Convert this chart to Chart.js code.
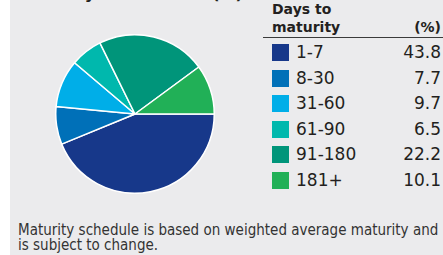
<!DOCTYPE html>
<html>
<head>
<meta charset="utf-8">
<script src="https://cdn.jsdelivr.net/npm/chart.js@4"></script>
<style>
  html, body { margin: 0; padding: 0; }
  body { width: 443px; height: 255px; background: #fff; overflow: hidden; position: relative; font-family: "DejaVu Sans", Verdana, sans-serif; color: #231f20; }
  #panel { position: absolute; left: 10px; top: 0; width: 433px; height: 255px; background: #ebebed; }
  #title { position: absolute; left: 18px; top: -16px; font-weight: bold; font-size: 16px; line-height: 19px; white-space: nowrap; }
  #pieBox { position: absolute; left: 55px; top: 34px; width: 160px; height: 160px; }
  #legend { position: absolute; left: 263px; top: 0; width: 180px; }
  .hdr { position: absolute; font-weight: bold; font-size: 14px; white-space: nowrap; }
  .rule { position: absolute; left: 0; top: 37px; width: 180px; height: 1px; background: #3a3a3a; }
  .row { position: absolute; left: 0; width: 178px; height: 20px; font-size: 17px; }
  .sw { position: absolute; left: 9px; top: 1px; width: 17px; height: 17px; }
  .lab { position: absolute; left: 33px; top: -1px; }
  .val { position: absolute; right: 0; top: -1px; }
  #note { position: absolute; left: 18px; top: 223px; font-family: "DejaVu Sans Condensed", "DejaVu Sans", sans-serif; font-size: 15px; line-height: 15px; white-space: nowrap; color: #333; }
</style>
</head>
<body>
<div id="panel"></div>
<div id="title">Maturity distribution (%)</div>
<div id="pieBox"><canvas id="pie" width="160" height="160"></canvas></div>
<div id="legend">
  <div class="hdr" style="left:9px; top:1px;">Days to</div>
  <div class="hdr" style="left:9px; top:19px;">maturity</div>
  <div class="hdr" style="right:2px; top:19px;">(%)</div>
  <div class="rule"></div>
</div>
<div id="note">Maturity schedule is based on weighted average maturity and<br>is subject to change.</div>
<script>
var categories = ['1-7', '8-30', '31-60', '61-90', '91-180', '181+'];
var percents = [43.8, 7.7, 9.7, 6.5, 22.2, 10.1];
var valueLabels = ['43.8', '7.7', '9.7', '6.5', '22.2', '10.1'];
var colors = ['#17388a', '#0070b8', '#00aee8', '#00b8ad', '#00957a', '#21b057'];

document.addEventListener("DOMContentLoaded", function() {
    // legend table
    var legend = document.getElementById('legend');
    for (var i = 0; i < categories.length; i++) {
        var row = document.createElement('div');
        row.className = 'row';
        row.style.top = (43 + i * 25.6) + 'px';
        row.innerHTML = '<div class="sw" style="background:' + colors[i] + '"></div>' +
            '<div class="lab">' + categories[i] + '</div>' +
            '<div class="val">' + valueLabels[i] + '</div>';
        legend.appendChild(row);
    }

    var ctx = document.getElementById('pie').getContext('2d');
    new Chart(ctx, {
        type: 'pie',
        data: {
            labels: categories,
            datasets: [{
                data: percents,
                backgroundColor: colors,
                borderColor: '#ffffff',
                borderWidth: 1.5
            }]
        },
        options: {
            responsive: false,
            animation: false,
            rotation: 90,
            layout: { padding: 0 },
            plugins: {
                legend: { display: false },
                tooltip: { enabled: false }
            }
        }
    });
});
</script>
</body>
</html>
